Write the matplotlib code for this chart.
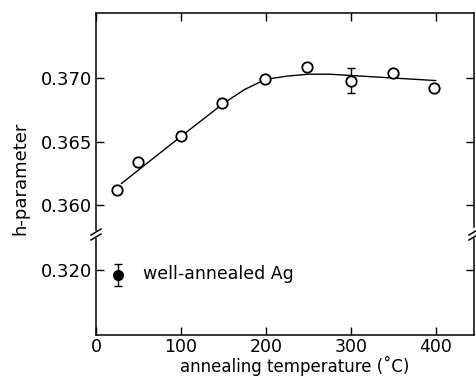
import numpy as np
import matplotlib
matplotlib.use("Agg")
import matplotlib.pyplot as plt
from matplotlib.lines import Line2D

# measured h-parameter after annealing
anneal_temp = [25, 50, 100, 148, 199, 248, 300, 350, 398]
h_param = [0.3612, 0.3634, 0.3654, 0.3680, 0.3699, 0.3709, 0.3698, 0.3704, 0.3692]
h_err_temp = [300]
h_err_val = [0.3698]
h_err = [0.0010]

# hand-drawn guide curve through the data
curve_temp = [30, 100, 150, 175, 200, 225, 250, 275, 300, 325, 350, 375, 400]
curve_h = [0.3617, 0.3654, 0.3680, 0.3691, 0.3699, 0.37015, 0.3703, 0.3703,
           0.3702, 0.3701, 0.3700, 0.3699, 0.3698]

# reference sample
ref_temp = [26]
ref_h = [0.3196]
ref_err = [0.0009]
ref_label = "well-annealed Ag"

x_ticks = [0, 100, 200, 300, 400]
upper_yticks = [0.360, 0.365, 0.370]
lower_yticks = [0.320]

plt.rcParams["font.family"] = "DejaVu Sans"

W, H = 477, 376
fig = plt.figure(figsize=(W / 100, H / 100), dpi=100)


def fx(px):
    return px / W


def fy(py):
    return 1 - py / H


left, right = 96, 474
top, joint, bottom = 13, 234, 335

ax_up = fig.add_axes([fx(left), fy(joint), fx(right - left), fy(top) - fy(joint)])
ax_lo = fig.add_axes([fx(left), fy(bottom), fx(right - left), fy(joint) - fy(bottom)])

lw_spine = 1.1
for ax in (ax_up, ax_lo):
    ax.set_xlim(0, 445)
    for s in ax.spines.values():
        s.set_linewidth(lw_spine)
    ax.tick_params(direction="in", length=6, width=1.0, labelsize=13,
                   pad=3, top=True, right=True)

ax_up.set_ylim(0.35772, 0.37512)
ax_lo.set_ylim(0.31488, 0.32283)

ax_up.spines["bottom"].set_visible(False)
ax_lo.spines["top"].set_visible(False)
ax_up.spines["left"].set_bounds(0.3580, 0.37512)
ax_up.spines["right"].set_bounds(0.3583, 0.37512)
ax_lo.spines["left"].set_bounds(0.31488, 0.32240)
ax_lo.spines["right"].set_bounds(0.31488, 0.32245)

ax_up.set_xticks(x_ticks)
ax_up.tick_params(axis="x", bottom=False, labelbottom=False, top=True)
ax_lo.set_xticks(x_ticks)
ax_lo.tick_params(axis="x", top=False, labelsize=12.5, pad=2)
ax_up.set_yticks(upper_yticks)
ax_up.set_yticklabels([f"{v:.3f}" for v in upper_yticks])
ax_lo.set_yticks(lower_yticks)
ax_lo.set_yticklabels([f"{v:.3f}" for v in lower_yticks])

ax_up.plot(curve_temp, curve_h, color="black", lw=1.0, zorder=2)
ax_up.errorbar(h_err_temp, h_err_val, yerr=h_err, fmt="none", ecolor="black",
               elinewidth=1.0, capsize=3, capthick=1.0, zorder=2)
ax_up.plot(anneal_temp, h_param, "o", ms=7.5, mfc="white", mec="black",
           mew=1.3, zorder=3)

ax_lo.errorbar(ref_temp, ref_h, yerr=ref_err, fmt="o", ms=7, color="black",
               elinewidth=1.0, capsize=3, capthick=1.0)
ax_lo.text(55, ref_h[0] + 0.0001, ref_label, fontsize=12.5, va="center", ha="left")

# break marks on both vertical axes
for xs in (left, right):
    for y0 in (232, 237):
        fig.add_artist(Line2D([fx(xs - 5), fx(xs + 5)], [fy(y0 + 3), fy(y0 - 3)],
                              color="black", lw=1.1))

fig.text(fx(295), fy(356), "annealing temperature (\u02daC)", fontsize=12,
         ha="center", va="top")
fig.text(fx(20), fy(178), "h-parameter", fontsize=13, rotation=90,
         ha="center", va="center")

fig.savefig("out.png", dpi=100)
